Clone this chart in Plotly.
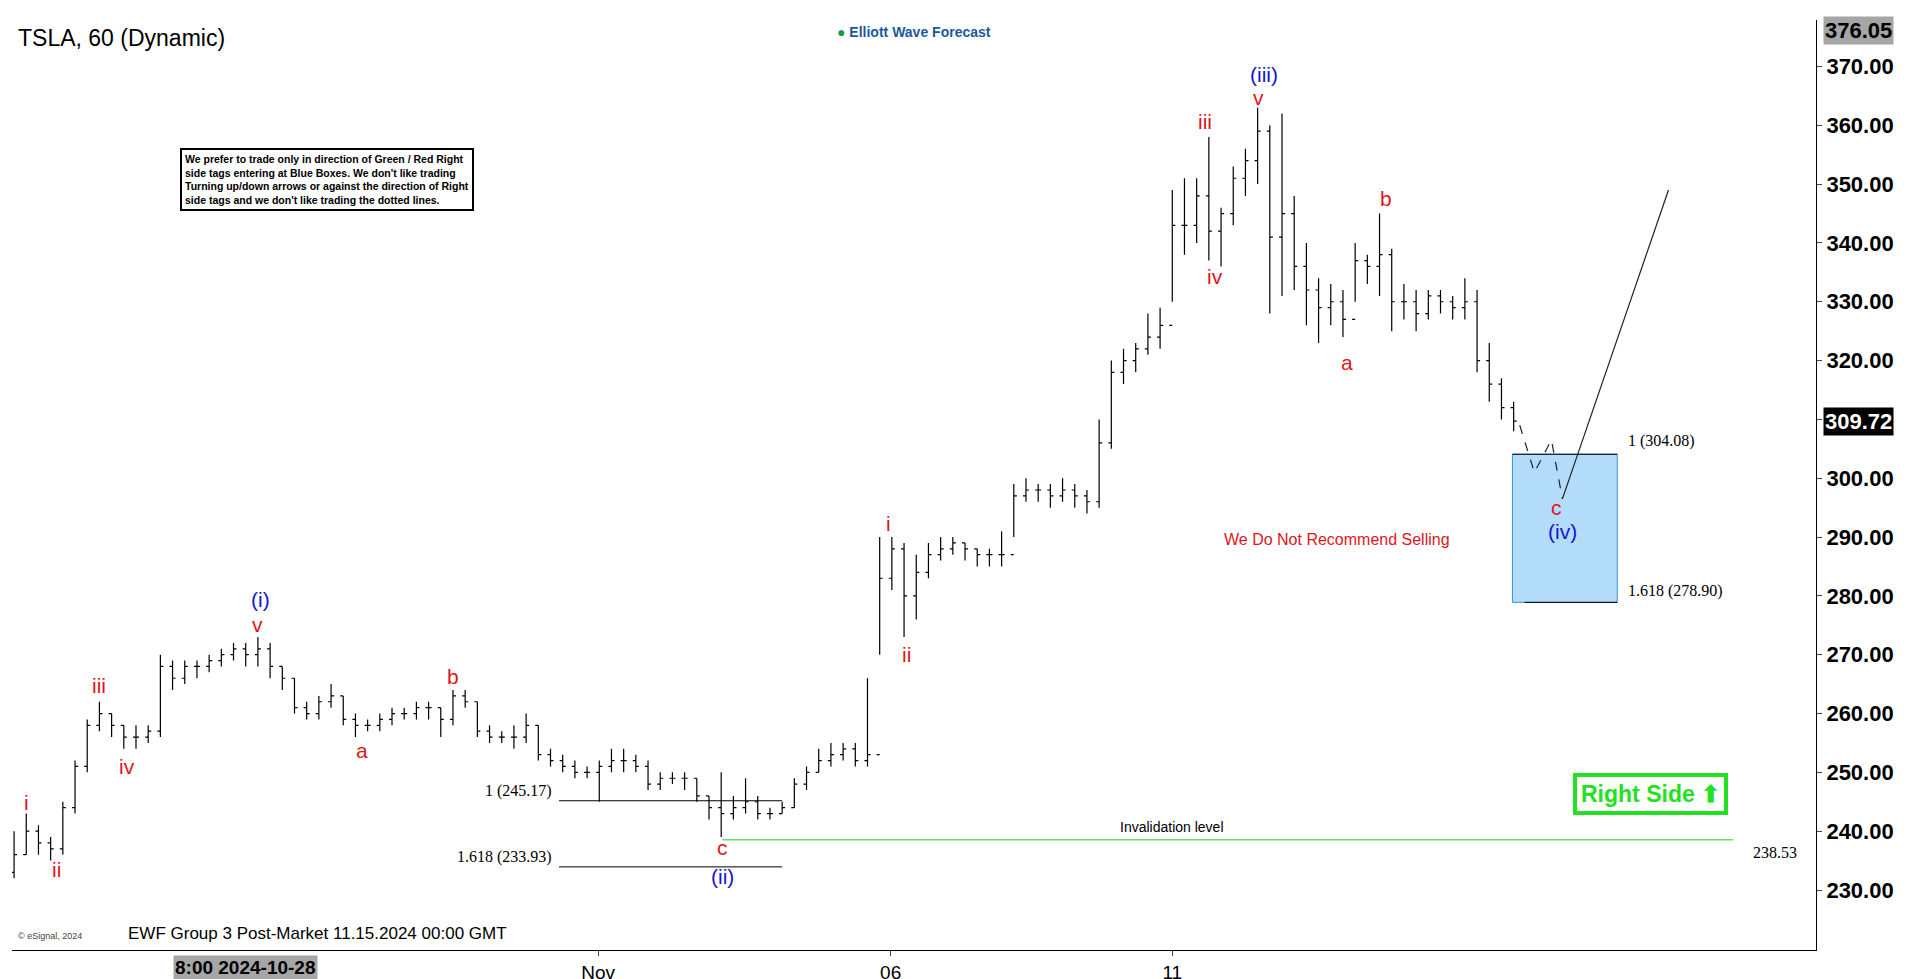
import plotly.graph_objects as go

# hourly-ish bars
closes = [236, 240, 238, 237, 244, 251, 258, 260, 258, 256, 256, 257, 268, 266, 268, 268, 269, 270, 271, 270,
          271, 268, 266, 261, 260, 262, 263, 259, 258, 258, 259, 260, 260, 261, 261, 259, 263, 262, 257, 256,
          256, 256, 258, 253, 252, 251, 250, 250, 251, 252, 252, 251, 248, 249, 249, 249, 246, 244, 243, 244,
          245, 243, 243, 244, 248, 250, 252, 253, 254, 252, 253, 283, 288, 280, 284, 287, 288, 289, 288, 287,
          287, 287, 297, 298, 298, 297, 298, 297, 296, 306, 318, 320, 322, 324, 326, 343, 343, 348, 342, 345,
          351, 354, 359, 341, 345, 336, 332, 329, 330, 327, 337, 336, 338, 330, 330, 328, 331, 330, 329, 330,
          320, 316, 312, 309.72]
highs = [240, 243, 241, 239, 245, 252, 259, 262, 260, 258, 258, 258, 270, 269, 269, 269, 270, 271, 272, 272,
         273, 272, 268, 266, 262, 263, 265, 263, 260, 259, 260, 261, 261, 262, 262, 261, 264, 264, 262, 258,
         257, 258, 260, 258, 254, 253, 252, 251, 252, 254, 254, 253, 252, 250, 250, 250, 249, 246, 250, 246,
         249, 246, 244, 245, 249, 251, 254, 255, 255, 255, 266, 290, 290, 289, 287, 289, 290, 290, 289, 288,
         288, 291, 299, 300, 299, 299, 300, 299, 298, 310, 320, 322, 323, 328, 329, 349, 351, 351, 358, 346,
         353, 356, 363, 360, 362, 348, 340, 334, 333, 332, 340, 338, 345, 339, 333, 332, 332, 332, 331, 334,
         332, 323, 317, 313]
lows = [232, 236, 236, 235, 236, 243, 250, 257, 256, 254, 254, 255, 256, 264, 265, 266, 267, 268, 269, 268,
        268, 266, 264, 260, 259, 259, 261, 258, 256, 257, 257, 258, 259, 259, 259, 256, 258, 261, 256, 255,
        255, 254, 255, 252, 251, 250, 249, 249, 245, 250, 250, 250, 247, 247, 248, 247, 245, 242, 239, 242,
        243, 242, 242, 243, 244, 247, 250, 251, 252, 251, 251, 270, 281, 273, 276, 283, 286, 287, 286, 285,
        285, 285, 290, 296, 296, 295, 296, 295, 294, 295, 305, 316, 318, 321, 322, 330, 338, 340, 337, 336,
        343, 348, 350, 328, 331, 332, 326, 323, 326, 324, 330, 333, 331, 325, 327, 325, 327, 328, 327, 327,
        318, 313, 310, 308]
opens = [233] + closes[:-1]
bars = list(range(len(closes)))

# wave labels: (text, bar, price, colour)
labels = [("i", 1, 244.8, "red"), ("ii", 3.5, 233.5, "red"), ("iii", 7, 264.8, "red"),
          ("iv", 9.3, 251, "red"), ("(i)", 20.2, 279.4, "blue"), ("v", 20, 275.2, "red"),
          ("a", 28.5, 253.7, "red"), ("b", 36, 266.3, "red"), ("c", 58.1, 237.2, "red"),
          ("(ii)", 58.1, 232.3, "blue"), ("i", 71.7, 292.3, "red"), ("ii", 73.2, 270, "red"),
          ("iii", 97.7, 360.7, "red"), ("iv", 98.5, 334.3, "red"), ("(iii)", 102.5, 368.6, "blue"),
          ("v", 102.1, 364.8, "red"), ("a", 109.3, 319.7, "red"), ("b", 112.5, 347.5, "red"),
          ("c", 126.5, 295, "red"), ("(iv)", 127, 290.9, "blue")]

proj_dash_x = [123.5, 124.7, 126.1, 127]
proj_dash_y = [309, 301, 306.5, 296.5]
proj_line_x = [127, 135.7]
proj_line_y = [296.5, 349]

fib_hi, fib_lo = 304.08, 278.90
prev_1, prev_1618 = 245.17, 233.93
invalid = 238.53
last_price, top_price = 309.72, 376.05

tick_vals = [47.9, 71.9, 95]
tick_text = ["Nov", "06", "11"]
price_ticks = list(range(230, 380, 10))

fig = go.Figure()
fig.add_trace(go.Ohlc(x=bars, open=opens, high=highs, low=lows, close=closes,
                      increasing_line_color="black", decreasing_line_color="black",
                      line_width=1.2, tickwidth=0.25, hoverinfo="skip", showlegend=False))
fig.add_trace(go.Scatter(x=proj_dash_x, y=proj_dash_y, mode="lines",
                         line=dict(color="#222", width=1.2, dash="dash"), showlegend=False))
fig.add_trace(go.Scatter(x=proj_line_x, y=proj_line_y, mode="lines",
                         line=dict(color="#222", width=1.2), showlegend=False))

# blue box and fib lines
fig.add_shape(type="rect", x0=122.9, x1=131.5, y0=fib_lo, y1=fib_hi, fillcolor="#b3dcfb",
              line=dict(color="#3a8fd8", width=1), layer="below")
fig.add_shape(type="line", x0=122.9, x1=131.5, y0=fib_hi, y1=fib_hi, line=dict(color="black", width=1))
fig.add_shape(type="line", x0=123.9, x1=131.5, y0=fib_lo, y1=fib_lo, line=dict(color="black", width=1))
fig.add_shape(type="line", x0=44.7, x1=63, y0=prev_1, y1=prev_1, line=dict(color="black", width=1))
fig.add_shape(type="line", x0=44.7, x1=63, y0=prev_1618, y1=prev_1618, line=dict(color="black", width=1))
fig.add_shape(type="line", x0=58.1, x1=141, y0=invalid, y1=invalid, line=dict(color="#66e066", width=1.5))

serif = "Liberation Serif"
sans = "Liberation Sans"
for txt, x, y, anchor in [(f"1 ({fib_hi:.2f})", 132.2, 306.3, "left"),
                          (f"1.618 ({fib_lo:.2f})", 132.2, 280.8, "left"),
                          (f"1 ({prev_1:.2f})", 44.3, 246.8, "right"),
                          (f"1.618 ({prev_1618:.2f})", 44.3, 235.6, "right"),
                          (f"{invalid:.2f}", 142.5, 236.3, "left")]:
    fig.add_annotation(x=x, y=y, text=txt, showarrow=False, xanchor=anchor,
                       font=dict(family=serif, size=16, color="black"))
fig.add_annotation(x=95, y=240.7, text="Invalidation level", showarrow=False,
                   font=dict(family=sans, size=14, color="black"))
fig.add_annotation(x=108.5, y=289.6, text="We Do Not Recommend Selling", showarrow=False,
                   font=dict(family=sans, size=16, color="#e0161b"))

for txt, x, y, col in labels:
    fig.add_annotation(x=x, y=y, text=txt, showarrow=False,
                       font=dict(family=sans, size=21, color="#e0161b" if col == "red" else "#1515d0"))

# price tags on the axis
fig.add_annotation(xref="paper", x=1.004, y=top_price, text=f"<b>{top_price:.2f}</b>", showarrow=False,
                   xanchor="left", bgcolor="#a6a6a6", font=dict(family=sans, size=22, color="black"))
fig.add_annotation(xref="paper", x=1.004, y=last_price, text=f"<b>{last_price:.2f}</b>", showarrow=False,
                   xanchor="left", bgcolor="black", font=dict(family=sans, size=22, color="white"))

# paper texts
fig.add_annotation(xref="paper", yref="paper", x=0.002, y=0.997, text="TSLA, 60 (Dynamic)", showarrow=False,
                   xanchor="left", yanchor="top", font=dict(family=sans, size=23, color="black"))
fig.add_annotation(xref="paper", yref="paper", x=0.5, y=0.998, yanchor="top",
                   text="<b><span style='color:#1a9a4a'>●</span> <span style='color:#1a5a9a'>Elliott Wave Forecast</span></b>",
                   showarrow=False, font=dict(family=sans, size=14))
fig.add_annotation(xref="paper", yref="paper", x=0.093, y=0.862, xanchor="left", yanchor="top", align="left",
                   text="<b>We prefer to trade only in direction of Green / Red Right<br>side tags entering at Blue Boxes. We don't like trading<br>"
                        "Turning up/down arrows or against the direction of Right<br>side tags and we don't like trading the dotted lines.</b>",
                   showarrow=False, bordercolor="black", borderwidth=2, bgcolor="white", borderpad=3,
                   font=dict(family=sans, size=10.5, color="black"))
fig.add_annotation(xref="paper", yref="paper", x=0.951, y=0.145, text="<b>Right Side \u2b06</b>", showarrow=False,
                   bordercolor="#22e022", borderwidth=4, borderpad=4, bgcolor="white",
                   font=dict(family=sans, size=23, color="#22e022"))
fig.add_annotation(xref="paper", yref="paper", x=0.063, y=0.005, xanchor="left", yanchor="bottom",
                   text="EWF Group 3 Post-Market 11.15.2024 00:00 GMT", showarrow=False,
                   font=dict(family=sans, size=17, color="black"))
fig.add_annotation(xref="paper", yref="paper", x=0.002, y=0.008, xanchor="left", yanchor="bottom",
                   text="© eSignal, 2024", showarrow=False, font=dict(family=sans, size=9, color="#444"))
fig.add_annotation(x=19, yref="paper", y=-0.005, yanchor="top", text="<b>8:00 2024-10-28</b>", showarrow=False,
                   bgcolor="#a6a6a6", font=dict(family=sans, size=19, color="black"))

fig.update_layout(
    width=1912, height=979, margin=dict(l=4, r=104, t=12, b=32),
    plot_bgcolor="white", paper_bgcolor="white",
    xaxis=dict(range=[-0.17, 147.8], rangeslider=dict(visible=False), showgrid=False, zeroline=False,
               tickvals=tick_vals, ticktext=tick_text, ticks="outside", ticklen=5,
               tickfont=dict(family=sans, size=19, color="black"), showline=True, linecolor="black",
               tickprefix="<b>", ticksuffix="</b>"),
    yaxis=dict(range=[219.8, 377.9], side="right", showgrid=False, zeroline=False,
               tickvals=price_ticks, ticktext=[f"<b>{v:.2f}</b>" for v in price_ticks],
               ticks="outside", ticklen=5, showline=True, linecolor="black",
               tickfont=dict(family=sans, size=22, color="black")),
)

fig.write_html("out.html")
